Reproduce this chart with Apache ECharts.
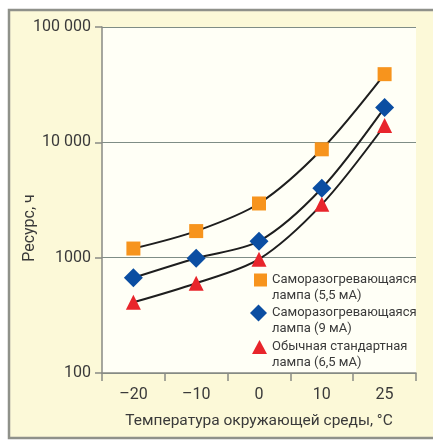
<!DOCTYPE html>
<html>
<head>
<meta charset="utf-8">
<script src="https://cdn.jsdelivr.net/npm/echarts@6/dist/echarts.min.js"></script>
<style>
html,body{margin:0;padding:0;background:#fff;}
#chart{width:433px;height:440px;}
</style>
</head>
<body>
<div id="chart"></div>
<script>
const categories = ['–20', '–10', '0', '10', '25'];
const selfHeating55 = [1200, 1700, 2950, 8700, 39000];
const selfHeating9 = [670, 990, 1390, 4000, 20000];
const standard65 = [410, 600, 970, 2900, 14000];
const seriesNames = [
  'Саморазогревающаяся\nлампа (5,5 мА)',
  'Саморазогревающаяся\nлампа (9 мА)',
  'Обычная стандартная\nлампа (6,5 мА)'
];
const yTickLabels = {100: '100', 1000: '1000', 10000: '10 000', 100000: '100 000'};
const yAxisTitle = 'Ресурс, ч';
const xAxisTitle = 'Температура окружающей среды, °C';

const FONT = 'Roboto, "Liberation Sans", sans-serif';
const TEXT = '#3a3a3a';
const chart = echarts.init(document.getElementById('chart'));

function mkSeries(name, data, symbol, size, color) {
  return {
    name: name, type: 'line', data: data, smooth: 0.3,
    symbol: symbol, symbolSize: size,
    lineStyle: {color: '#1e1e1e', width: 2},
    itemStyle: {color: color, opacity: 1},
    z: 3
  };
}
function mkLegend(name, textX, iconCy, icon, w, h) {
  return {
    data: [{name: name, icon: icon}],
    left: textX - 5 - w, top: iconCy - 24, itemWidth: w, itemHeight: h, itemGap: 0,
    padding: 0, selectedMode: false,
    formatter: function (n) { return ' \n' + n; },
    textStyle: {fontFamily: FONT, fontSize: 13, color: TEXT, lineHeight: 16}
  };
}

chart.setOption({
  backgroundColor: '#ffffff',
  animation: false,
  graphic: [
    {type: 'rect', z: -10, shape: {x: 9, y: 10, width: 430, height: 428},
     style: {fill: '#fcf9d8', stroke: '#8f918a', lineWidth: 2.5}},
    {type: 'text', x: 30, y: 228, rotation: Math.PI / 2,
     style: {text: yAxisTitle, fontFamily: FONT, fontSize: 16, fill: TEXT, align: 'center', verticalAlign: 'middle'}}
  ],
  grid: {left: 102, right: 17, top: 27, bottom: 67, show: true, backgroundColor: '#fffff6', borderWidth: 0},
  legend: [
    mkLegend(seriesNames[0], 272, 280, 'rect', 13, 13),
    mkLegend(seriesNames[1], 272, 313, 'diamond', 17, 17),
    mkLegend(seriesNames[2], 272, 347, 'triangle', 15, 14)
  ],
  xAxis: {
    type: 'category', data: categories, boundaryGap: true,
    name: xAxisTitle, nameLocation: 'middle', nameGap: 40,
    nameTextStyle: {fontFamily: FONT, fontSize: 15.5, color: TEXT},
    axisLine: {lineStyle: {color: '#888a84', width: 1.5}},
    axisTick: {show: true, length: 8, alignWithLabel: false, lineStyle: {color: '#888a84', width: 1.5}},
    axisLabel: {fontFamily: FONT, fontSize: 16, color: TEXT, margin: 14},
    splitLine: {show: false}
  },
  yAxis: {
    type: 'log', logBase: 10, min: 100, max: 100000,
    axisLine: {show: true, lineStyle: {color: '#888a84', width: 1.5}},
    axisTick: {show: true, length: 7, lineStyle: {color: '#888a84', width: 1.5}},
    axisLabel: {fontFamily: FONT, fontSize: 16, color: TEXT, margin: 11,
      formatter: function (v) { return yTickLabels[Math.round(v)] || ''; }},
    splitLine: {show: true, lineStyle: {color: '#7f8d86', width: 1.2}},
    minorTick: {show: false}, minorSplitLine: {show: false}
  },
  series: [
    mkSeries(seriesNames[0], selfHeating55, 'rect', 14, '#f7941d'),
    mkSeries(seriesNames[1], selfHeating9, 'diamond', 19, '#0b4ea2'),
    mkSeries(seriesNames[2], standard65, 'triangle', 15, '#e8252b')
  ]
});
</script>
</body>
</html>
